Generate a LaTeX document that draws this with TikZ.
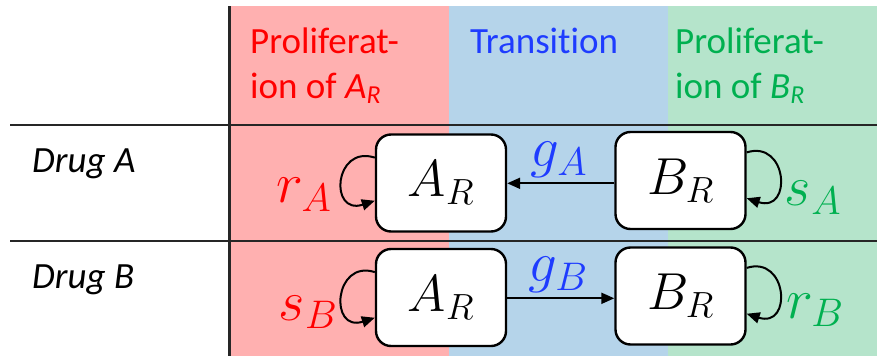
\RequirePackage{fix-cm}
\documentclass[tikz,border=0pt]{standalone}
\usepackage{fontspec}
\setmainfont[Ligatures=NoCommon]{Carlito}
\usetikzlibrary{arrows.meta}
\definecolor{bgred}{RGB}{255,176,176}
\definecolor{bgblue}{RGB}{181,212,234}
\definecolor{bggreen}{RGB}{181,228,203}
\definecolor{tred}{RGB}{255,0,0}
\definecolor{tblue}{RGB}{30,60,255}
\definecolor{tgreen}{RGB}{0,176,80}
\tikzset{
  x=1pt, y=-1pt,
  rule/.style={line width=2.4pt, black!85},
  state/.style={draw, line width=2.4pt, rounded corners=15pt, fill=white,
    minimum width=130pt, minimum height=97pt, inner sep=0pt,
    font=\fontsize{52}{60}\selectfont},
  arr/.style={line width=2pt, -{Triangle[length=13pt,width=11pt]}},
  head/.style={anchor=base west, inner sep=0pt, font=\fontsize{37}{45}\selectfont},
  drug/.style={anchor=base west, inner sep=0pt, font=\fontsize{37}{45}\selectfont\itshape},
  rate/.style={inner sep=0pt, font=\fontsize{57}{66}\selectfont},
}
\begin{document}
\begin{tikzpicture}
\useasboundingbox (0,0) rectangle (877,356);
% column backgrounds
\fill[bgred] (230,6) rectangle (449,356);
\fill[bgblue] (449,6) rectangle (668,356);
\fill[bggreen] (668,6) rectangle (877,356);
% table rules
\draw[rule] (229.5,6) -- (229.5,356);
\draw[rule] (10,125) -- (877,125);
\draw[rule] (10,241) -- (877,241);
% column headers
\node[head, text=tred] (h1a) at (250,53) {Proliferat-};
\node[head, text=tred] (h1b) at (250,98) {ion of {\itshape A\textsubscript{R}}};
\node[head, text=tblue] (h2) at (470,53) {Transition};
\node[head, text=tgreen] (h3a) at (675,53) {Proliferat-};
\node[head, text=tgreen] (h3b) at (675,98) {ion of {\itshape B\textsubscript{R}}};
% row headers
\node[drug] (d1) at (32,172) {Drug A};
\node[drug] (d2) at (32,288) {Drug B};
% states
\node[state] (a1) at (441,183) {$A_R$};
\node[state] (b1) at (680.5,180.5) {$B_R$};
\node[state] (a2) at (441,297.5) {$A_R$};
\node[state] (b2) at (680.5,296) {$B_R$};
% transitions
\draw[arr] (b1.west |- 0,183.3) coordinate (t1) -- (t1 -| a1.east);
\draw[arr] (a2.east |- 0,298.3) coordinate (t2) -- (t2 -| b2.west);
% self loops
\draw[arr] (a1.159) .. controls +(-41,-13) and +(-46,15) .. (a1.195);
\draw[arr] (a2.159) .. controls +(-41,-13) and +(-46,15) .. (a2.197);
\draw[arr] (b1.23) .. controls +(41,-13) and +(46,15) .. (b1.345);
\draw[arr] (b2.23) .. controls +(41,-13) and +(46,15) .. (b2.345);
% rates
\node[rate, text=tred] (ra) at (304,195) {$r_A$};
\node[rate, text=tred] (sb) at (308,312) {$s_B$};
\node[rate, text=tgreen] (sa) at (813,198) {$s_A$};
\node[rate, text=tgreen] (rb) at (815,310) {$r_B$};
\node[rate, text=tblue] (ga) at (559,160) {$g_A$};
\node[rate, text=tblue] (gb) at (558,275) {$g_B$};
\end{tikzpicture}
\end{document}
